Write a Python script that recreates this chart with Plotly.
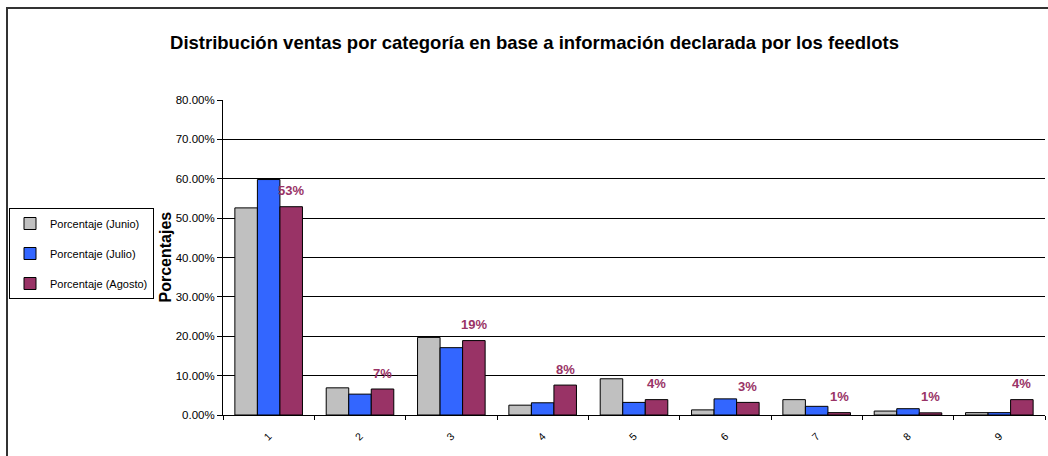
import plotly.graph_objects as go

categorias = ['1', '2', '3', '4', '5', '6', '7', '8', '9']
junio = [0.526, 0.069, 0.197, 0.025, 0.092, 0.013, 0.039, 0.010, 0.006]
julio = [0.598, 0.053, 0.171, 0.031, 0.032, 0.041, 0.022, 0.016, 0.006]
agosto = [0.529, 0.066, 0.189, 0.076, 0.039, 0.032, 0.006, 0.0055, 0.039]
y_ticks = [0, 0.1, 0.2, 0.3, 0.4, 0.5, 0.6, 0.7, 0.8]

FONT = "Liberation Sans, Arial, sans-serif"
W, H = 1048, 456
M = dict(l=223, r=3, t=100, b=41, autoexpand=False)
BARGAP = 0.26

fig = go.Figure()
series = [
    ('Porcentaje (Junio)', junio, '#C0C0C0'),
    ('Porcentaje (Julio)', julio, '#3366FF'),
    ('Porcentaje (Agosto)', agosto, '#993366'),
]
for name, vals, color in series:
    fig.add_bar(x=categorias, y=vals, name=name, legendgroup=name,
                marker=dict(color=color, line=dict(color='black', width=1)))

# etiquetas sobre las barras de agosto
off = (1 - BARGAP) / 3
for i, v in enumerate(agosto):
    fig.add_annotation(x=i + off, y=v, xref='x', yref='y', text=f"{v * 100:.0f}%",
                       showarrow=False, yshift=16,
                       font=dict(family=FONT, size=13, color='#993366', weight='bold'))

pw = W - M['l'] - M['r']
ph = H - M['t'] - M['b']

# título del eje y
fig.add_annotation(x=(165 - M['l']) / pw, y=0.5, xref='paper', yref='paper',
                   text='Porcentajes', textangle=-90, showarrow=False,
                   xanchor='center', yanchor='middle',
                   font=dict(family=FONT, size=16, color='black', weight='bold'))

# borde del área del gráfico (izquierda y arriba)
fig.add_shape(type='rect', xref='paper', yref='paper',
              x0=(7 - M['l']) / pw, x1=(W + 10 - M['l']) / pw,
              y0=-(M['b'] + 10) / ph, y1=1 + (M['t'] - 8) / ph,
              line=dict(color='#333333', width=2))

fig.update_layout(
    width=W, height=H, margin=M,
    paper_bgcolor='white', plot_bgcolor='white',
    barmode='group', bargap=BARGAP, bargroupgap=0,
    title=dict(text='Distribución ventas por categoría en base a información declarada por los feedlots',
               x=0.51, xref='container', y=1 - 43 / H, yref='container', yanchor='middle',
               font=dict(family=FONT, size=18.5, color='black', weight='bold')),
    legend=dict(xref='container', yref='container', x=9 / W, y=1 - 208 / H,
                xanchor='left', yanchor='top', bordercolor='black', borderwidth=1,
                tracegroupgap=11, bgcolor='white', itemwidth=30,
                font=dict(family=FONT, size=11, color='black')),
    font=dict(family=FONT, color='black'),
)
fig.update_yaxes(range=[0, 0.8], tickvals=y_ticks, tickformat='.2%',
                 showgrid=True, gridcolor='black', gridwidth=1,
                 showline=True, linecolor='black', linewidth=1,
                 ticks='outside', ticklen=5, tickcolor='black',
                 tickfont=dict(family=FONT, size=11.5))
fig.update_xaxes(type='category', tickangle=-45, tickson='boundaries',
                 showline=True, linecolor='black', linewidth=1,
                 ticks='outside', ticklen=4, tickcolor='black', ticklabelstandoff=10,
                 tickfont=dict(family=FONT, size=10.5))

fig.write_html("out.html", config={'displayModeBar': False},
               post_script="document.body.style.margin='0';")
